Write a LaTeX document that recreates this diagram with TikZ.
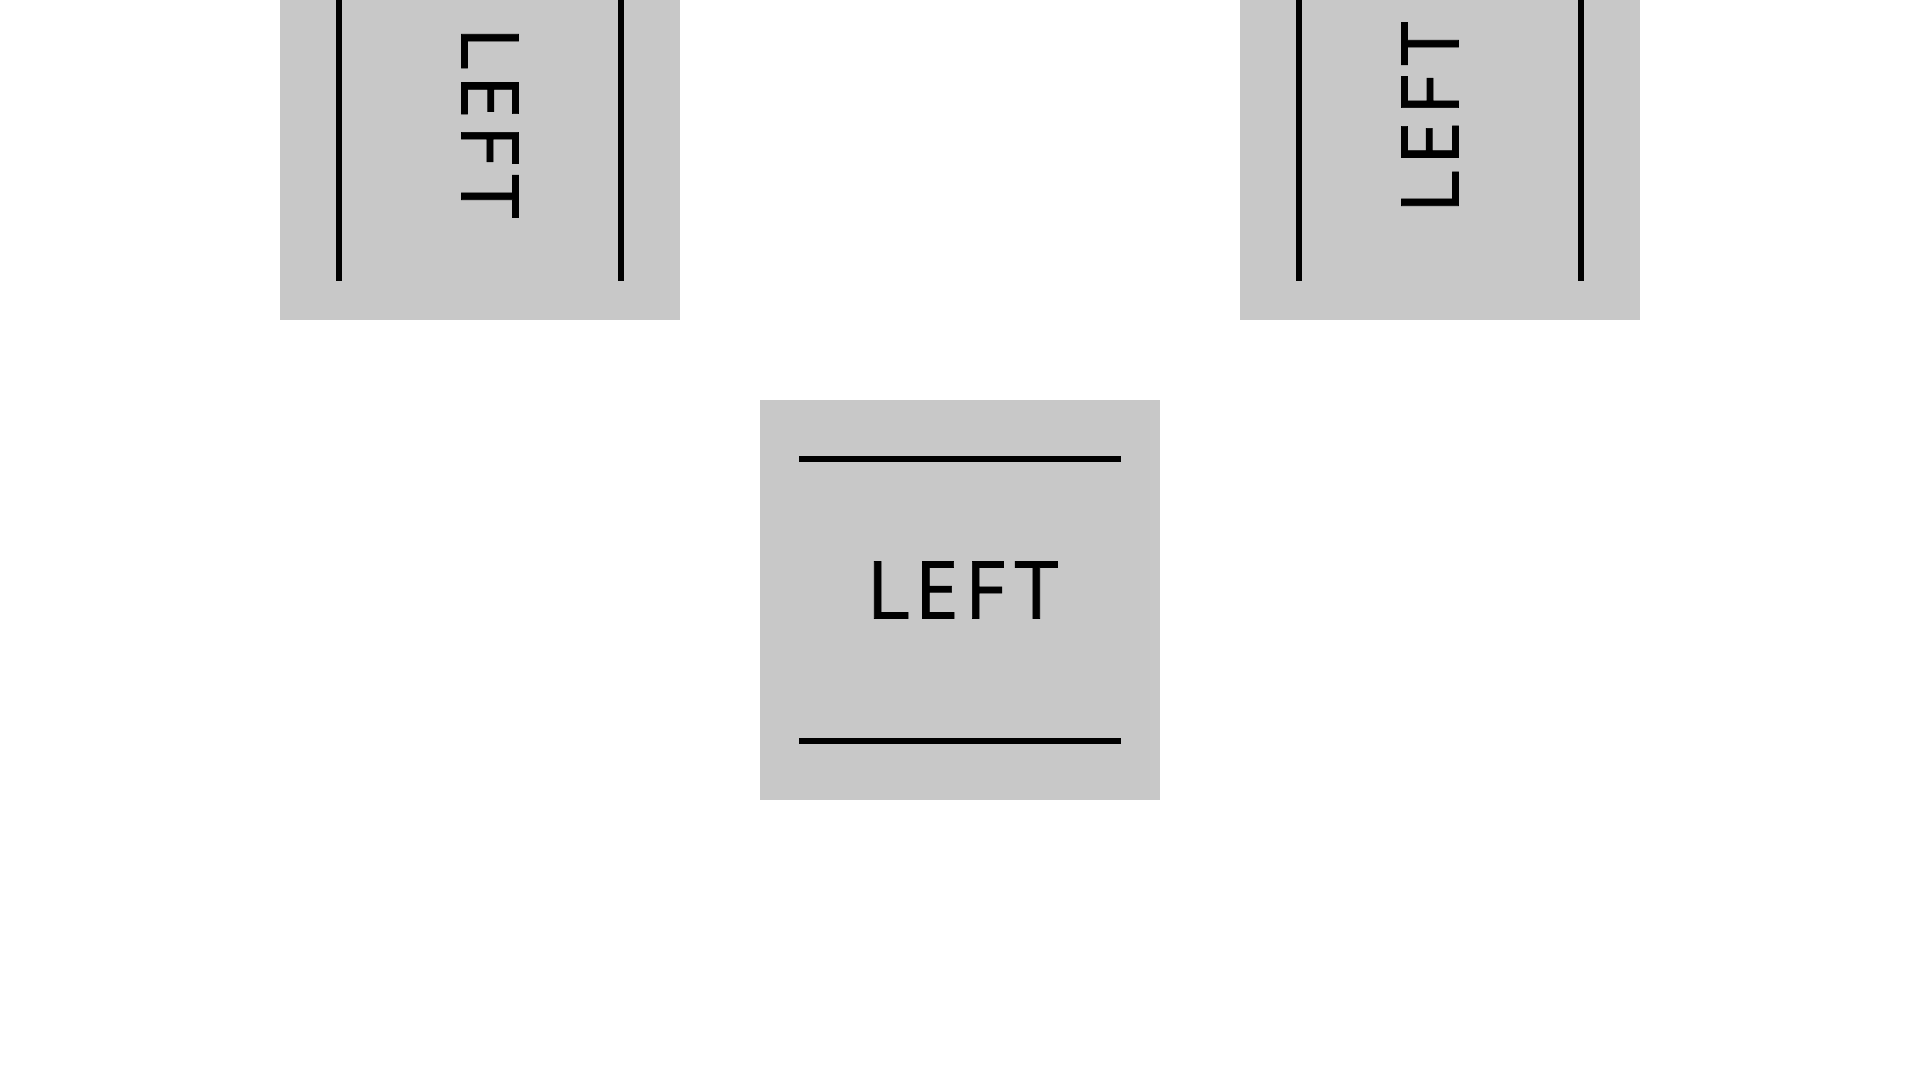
\documentclass[tikz,border=0pt]{standalone}
\usepackage{fontspec}
\usepackage{xcolor}
\usepackage{tikz}
\setsansfont[LetterSpace=7.5,FakeBold=0.8]{PT Sans}
\definecolor{panel-color}{RGB}{200, 200, 200}
\definecolor{ink-color}{RGB}{0, 0, 0}

\begin{document}
\begin{tikzpicture}[
    panel/.style={rectangle,fill=panel-color,minimum size=4cm,inner sep=0pt},
    word/.style={font=\sffamily\fontsize{23.2}{28}\selectfont,inner sep=0pt,text=ink-color},
    rule/.style={line width=0.06cm,draw=ink-color}
]
\useasboundingbox (0,0) rectangle (19.2,10.8);
\node[panel] (left) at (4.8,9.6) {};
\node[panel] (right) at (14.4,9.6) {};
\node[panel] (middle) at (9.6,4.8) {};
% middle panel
\draw[rule] ([shift={(0.4,-0.6)}]middle.north west) -- ([shift={(-0.4,-0.6)}]middle.north east);
\draw[rule] ([shift={(0.4,0.6)}]middle.south west) -- ([shift={(-0.4,0.6)}]middle.south east);
% side panels
\foreach \p in {left,right} {
    \draw[rule] ([shift={(0.6,-0.4)}]\p.north west) -- ([shift={(0.6,0.4)}]\p.south west);
    \draw[rule] ([shift={(-0.6,-0.4)}]\p.north east) -- ([shift={(-0.6,0.4)}]\p.south east);
}
\node[word] (middle-text) at ([yshift=0.1cm]middle.center) {LEFT\kern-1.8pt};
\node[word,rotate=-90] (left-text) at ([xshift=0.1cm]left.center) {LEFT\kern-1.8pt};
\node[word,rotate=90] (right-text) at ([xshift=-0.1cm]right.center) {LEFT\kern-1.8pt};
\end{tikzpicture}
\end{document}
